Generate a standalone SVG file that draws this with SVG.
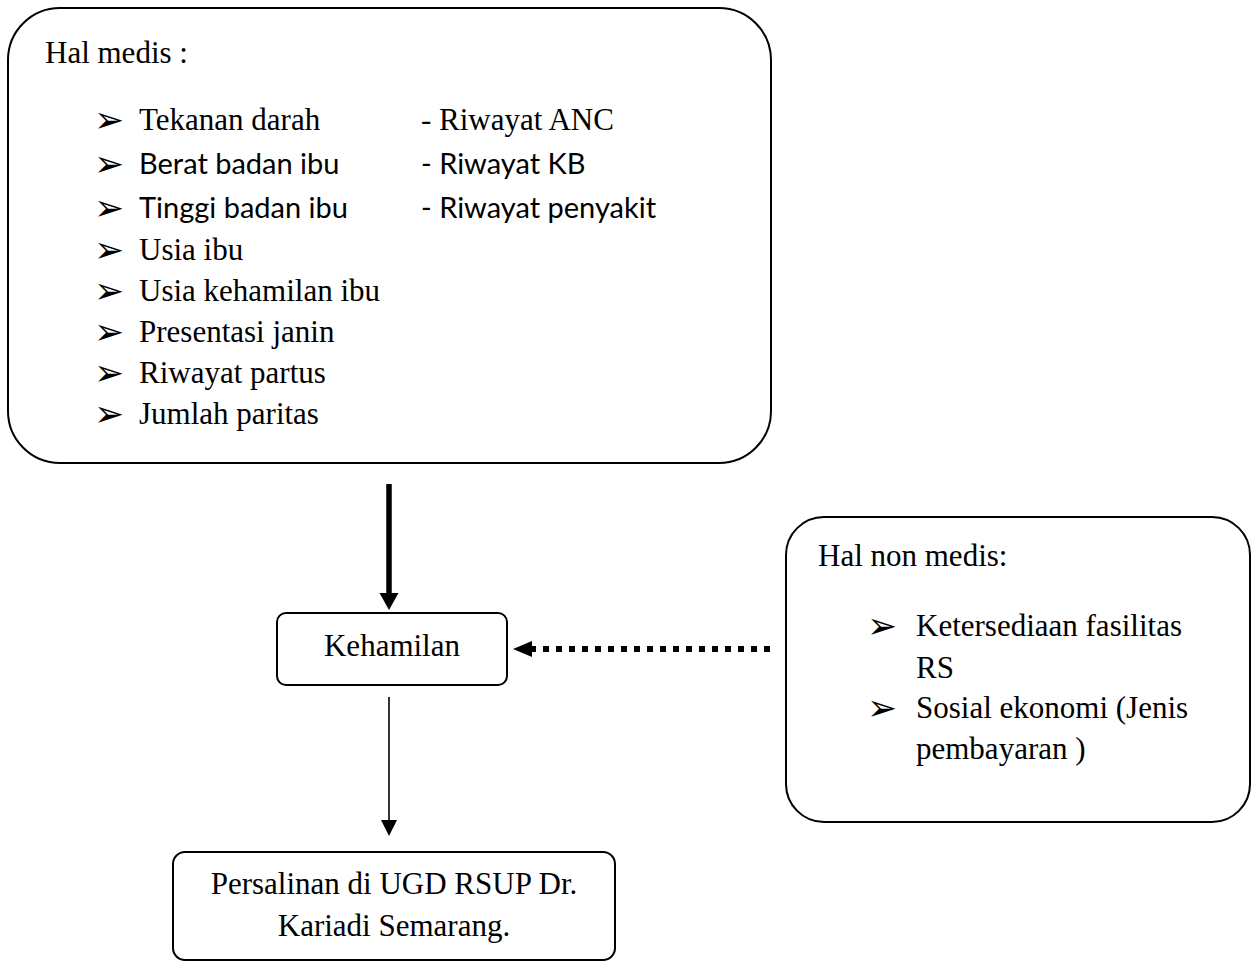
<svg xmlns="http://www.w3.org/2000/svg" width="1258" height="962" viewBox="0 0 1258 962">
<style>
.box{fill:#fff;stroke:#000;stroke-width:2}
.tr{font-family:"Liberation Serif","Times New Roman",serif;font-size:31px;fill:#000}
.ca{font-family:Lato,"Liberation Sans",sans-serif;font-size:29px;fill:#000}
.bl{font-family:"DejaVu Sans",sans-serif;font-size:36px;fill:#000}
.mid{text-anchor:middle}
</style>
<defs>
<marker id="headThick" markerUnits="userSpaceOnUse" markerWidth="18" markerHeight="20" refX="0" refY="9.5" orient="auto" viewBox="0 0 18 20">
<path d="M0,0 L17,9.5 L0,19 z" fill="#000"/>
</marker>
<marker id="headThin" markerUnits="userSpaceOnUse" markerWidth="17" markerHeight="17" refX="0" refY="8" orient="auto" viewBox="0 0 17 17">
<path d="M0,0 L16,8 L0,16 z" fill="#000"/>
</marker>
<marker id="headDot" markerUnits="userSpaceOnUse" markerWidth="20" markerHeight="17" refX="0" refY="8" orient="auto" viewBox="0 0 20 17">
<path d="M0,0 L19,8 L0,16 z" fill="#000"/>
</marker>
</defs>
<rect width="1258" height="962" fill="#fff"/>
<g id="connectors">
<line x1="389" y1="484" x2="389" y2="593" stroke="#000" stroke-width="5.5" marker-end="url(#headThick)"/>
<line x1="389" y1="697" x2="389" y2="820" stroke="#000" stroke-width="1.6" marker-end="url(#headThin)"/>
<line x1="770" y1="649" x2="532" y2="649" stroke="#000" stroke-width="6" stroke-dasharray="6 7" marker-end="url(#headDot)"/>
</g>
<g id="node-medis">
<rect class="box" x="8" y="8" width="763" height="455" rx="52" ry="52"/>
<text class="tr" x="45" y="63">Hal medis :</text>
<text class="bl" x="94" y="132">➢</text>
<text class="tr" x="139" y="130">Tekanan darah</text>
<text class="tr" x="421" y="130">- Riwayat ANC</text>
<text class="bl" x="94" y="176">➢</text>
<text class="ca" x="139" y="174">Berat badan ibu</text>
<text class="ca" x="421" y="174">- Riwayat KB</text>
<text class="bl" x="94" y="220">➢</text>
<text class="ca" x="139" y="218">Tinggi badan ibu</text>
<text class="ca" x="421" y="218">- Riwayat penyakit</text>
<text class="bl" x="94" y="262">➢</text>
<text class="tr" x="139" y="260">Usia ibu</text>
<text class="bl" x="94" y="303">➢</text>
<text class="tr" x="139" y="301">Usia kehamilan ibu</text>
<text class="bl" x="94" y="344">➢</text>
<text class="tr" x="139" y="342">Presentasi janin</text>
<text class="bl" x="94" y="385">➢</text>
<text class="tr" x="139" y="383">Riwayat partus</text>
<text class="bl" x="94" y="426">➢</text>
<text class="tr" x="139" y="424">Jumlah paritas</text>
</g>
<g id="node-kehamilan">
<rect class="box" x="277" y="613" width="230" height="72" rx="9" ry="9"/>
<text class="tr mid" x="392" y="656">Kehamilan</text>
</g>
<g id="node-nonmedis">
<rect class="box" x="786" y="517" width="464" height="305" rx="38" ry="38"/>
<text class="tr" x="818" y="566">Hal non medis:</text>
<text class="bl" x="867" y="638">➢</text>
<text class="tr" x="916" y="636">Ketersediaan fasilitas</text>
<text class="tr" x="916" y="678">RS</text>
<text class="bl" x="867" y="720">➢</text>
<text class="tr" x="916" y="718">Sosial ekonomi (Jenis</text>
<text class="tr" x="916" y="759">pembayaran )</text>
</g>
<g id="node-persalinan">
<rect class="box" x="173" y="852" width="442" height="108" rx="12" ry="12"/>
<text class="tr mid" x="394" y="894">Persalinan di UGD RSUP Dr.</text>
<text class="tr mid" x="394" y="936">Kariadi Semarang.</text>
</g>
</svg>
